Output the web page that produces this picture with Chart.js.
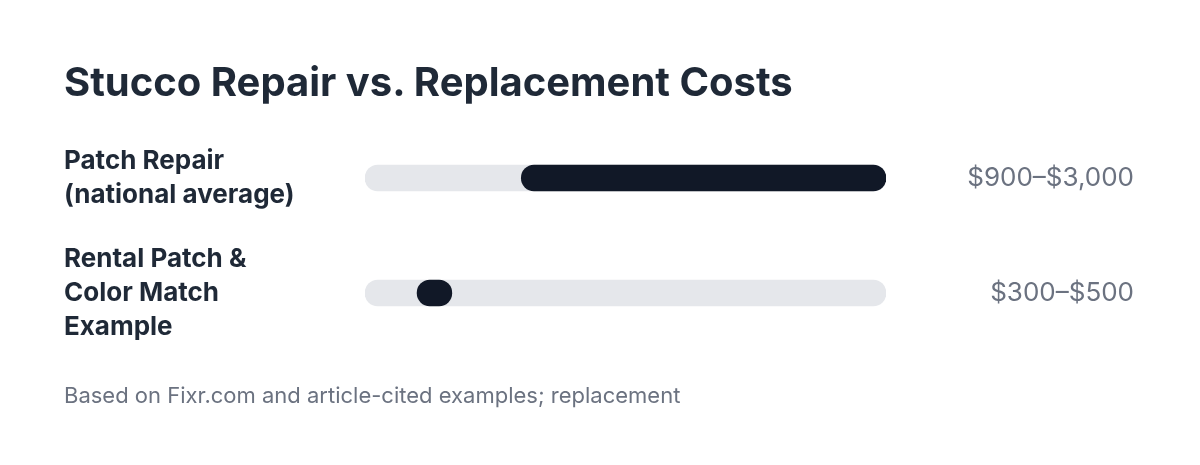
<!DOCTYPE html>
<html>
<head>
<meta charset="utf-8">
<script src="https://cdn.jsdelivr.net/npm/chart.js@4"></script>
<style>
  html, body { margin: 0; padding: 0; background: #fff; }
  #wrap { position: relative; width: 1200px; height: 465px; overflow: hidden; font-family: Inter, "Noto Sans", sans-serif; }
  #title { position: absolute; left: 64px; top: 62px; margin: 0; font-size: 40px; line-height: 1; font-weight: 700; color: #1f2937; white-space: nowrap; }
  #note { position: absolute; left: 64px; top: 384px; font-size: 22px; line-height: 1; color: #6b7280; white-space: nowrap; }
  #chart { position: absolute; left: 0; top: 0; }
</style>
</head>
<body>
<div id="wrap">
  <canvas id="chart" width="1200" height="465"></canvas>
  <h1 id="title">Stucco Repair vs. Replacement Costs</h1>
  <div id="note">Based on Fixr.com and article-cited examples; replacement</div>
</div>
<script>
// 数据
const categories = [
  ['Patch Repair', '(national average)'],
  ['Rental Patch &', 'Color Match', 'Example']
];
const lowCosts = [900, 300];
const highCosts = [3000, 500];
const valueLabels = ['$900–$3,000', '$300–$500'];
const scaleMax = 3000;

const ranges = lowCosts.map((lo, i) => [lo, highCosts[i]]);
const track = categories.map(() => [0, scaleMax]);

// 右侧数值标签
const valueLabelPlugin = {
  id: 'valueLabels',
  afterDatasetsDraw(chart) {
    const ctx = chart.ctx;
    const y = chart.scales.y;
    ctx.save();
    ctx.font = '26px Inter, "Noto Sans", sans-serif';
    ctx.fillStyle = '#6b7280';
    ctx.textAlign = 'right';
    ctx.textBaseline = 'middle';
    valueLabels.forEach((t, i) => {
      ctx.fillText(t, chart.width - 66, y.getPixelForValue(i));
    });
    ctx.restore();
  }
};

const ctx = document.getElementById('chart').getContext('2d');
new Chart(ctx, {
  type: 'bar',
  data: {
    labels: categories,
    datasets: [
      {
        data: ranges,
        backgroundColor: '#111827',
        borderRadius: 13,
        borderSkipped: false,
        barThickness: 26,
        grouped: false
      },
      {
        data: track,
        backgroundColor: '#e5e7eb',
        borderRadius: 13,
        borderSkipped: false,
        barThickness: 26,
        grouped: false
      }
    ]
  },
  options: {
    indexAxis: 'y',
    responsive: false,
    animation: false,
    layout: { padding: { left: 64, right: 314, top: 120.5, bottom: 114.5 } },
    plugins: {
      legend: { display: false },
      tooltip: { enabled: false }
    },
    scales: {
      x: {
        display: false,
        min: 0,
        max: scaleMax
      },
      y: {
        grid: { display: false },
        border: { display: false },
        afterFit: function(scale) { scale.width = 301; },
        ticks: {
          crossAlign: 'far',
          color: '#1f2937',
          font: { family: 'Inter, "Noto Sans", sans-serif', size: 26, weight: '700', lineHeight: 1.31 }
        }
      }
    }
  },
  plugins: [valueLabelPlugin]
});
</script>
</body>
</html>
